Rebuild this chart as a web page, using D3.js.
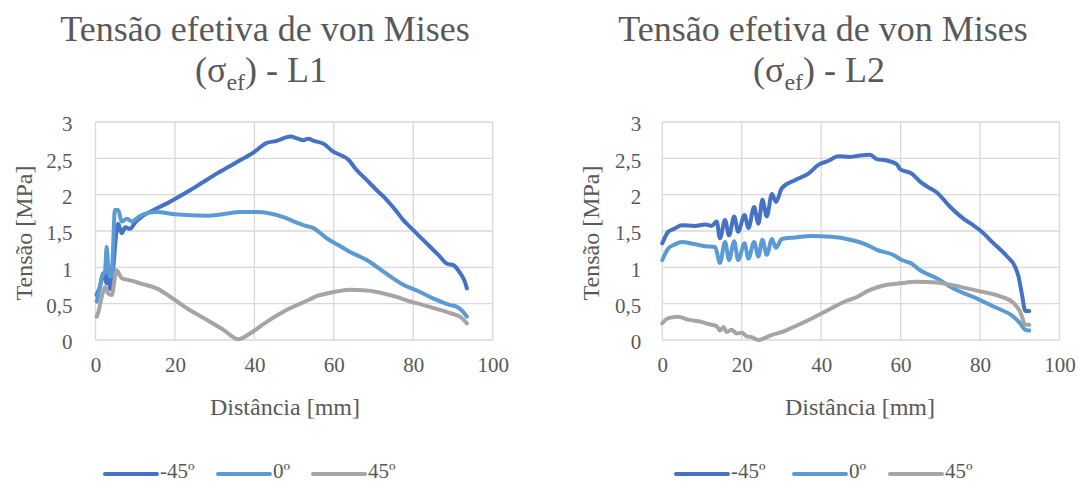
<!DOCTYPE html>
<html>
<head>
<meta charset="utf-8">
<script src="https://cdn.jsdelivr.net/npm/d3@7"></script>
<style>
  html, body { margin: 0; padding: 0; background: #fff; }
  svg { display: block; }
  svg text { font-family: "Liberation Serif", "Times New Roman", serif; fill: #595959; }
</style>
</head>
<body>
<svg id="chart" width="1080" height="483"></svg>
<script>
// ---------- DATA ----------
const seriesNames = ["-45º", "0º", "45º"];
const seriesColors = ["#4472C4", "#5B9BD5", "#A5A5A5"];
const xTicks = [0, 20, 40, 60, 80, 100];
const xTickLabels = ["0", "20", "40", "60", "80", "100"];
const yTicks = [0, 0.5, 1, 1.5, 2, 2.5, 3];
const yTickLabels = ["0", "0,5", "1", "1,5", "2", "2,5", "3"];
const chartTitles = ["L1", "L2"];

// L1: [distância mm, tensão MPa]
const L1_neg45 = [[0.3,0.62],[1.1,0.73],[2.0,0.92],[2.8,0.78],[3.2,0.92],[3.7,0.70],[4.5,1.02],[5.2,1.45],[5.7,1.6],[6.6,1.47],[7.5,1.55],[8.7,1.53],[10,1.62],[12,1.71],[15,1.8],[18,1.88],[20,1.94],[23.8,2.06],[27,2.17],[30.5,2.29],[35,2.43],[40,2.59],[43,2.71],[45.6,2.74],[49,2.80],[51,2.77],[52.3,2.75],[53.6,2.77],[55,2.74],[57.4,2.70],[59.9,2.59],[61.5,2.55],[63.7,2.48],[65.4,2.36],[68.3,2.2],[71.2,2.04],[73.3,1.93],[75.5,1.79],[77.5,1.65],[79.5,1.54],[81.7,1.42],[84.3,1.28],[86.5,1.16],[88.5,1.05],[90.1,1.03],[91.8,0.92],[93,0.8],[93.5,0.71]];
const L1_zero = [[0.3,0.53],[1.0,0.7],[1.6,0.87],[2.4,0.94],[2.8,1.28],[3.2,1.01],[3.7,0.87],[4.1,0.92],[4.9,1.79],[5.7,1.79],[6.6,1.63],[7.9,1.67],[9.1,1.63],[10.5,1.68],[12,1.73],[15.4,1.76],[20,1.73],[28,1.71],[32,1.73],[36.4,1.76],[40.6,1.76],[44,1.74],[47.3,1.69],[50,1.63],[52.3,1.58],[54.9,1.54],[58.2,1.40],[61,1.31],[64.1,1.21],[68.3,1.10],[72.5,0.94],[77.5,0.76],[81.7,0.66],[85.1,0.57],[89.3,0.48],[90.9,0.46],[92.5,0.39],[93.5,0.32]];
const L1_pos45 = [[0.3,0.32],[0.7,0.38],[1.6,0.60],[2.4,0.73],[3.2,0.64],[4.1,0.62],[5.3,0.96],[6.6,0.85],[7.9,0.83],[9.5,0.81],[11.2,0.78],[15.4,0.71],[20,0.55],[23.8,0.41],[28,0.28],[32.2,0.14],[36,0.01],[38.9,0.09],[43.1,0.25],[47.3,0.39],[50.7,0.48],[53.6,0.55],[56,0.61],[58.2,0.64],[61,0.67],[64.1,0.69],[68.3,0.68],[72.5,0.64],[76,0.59],[79.2,0.53],[82,0.49],[85.1,0.44],[89.3,0.37],[91.8,0.32],[93.5,0.23]];

// L2
const L2_neg45 = [[0,1.33],[1.5,1.49],[3,1.53],[4.9,1.58],[8.2,1.57],[10.8,1.59],[12.4,1.57],[13.7,1.63],[14.5,1.40],[15.8,1.65],[16.8,1.44],[18.1,1.70],[19.1,1.49],[20.7,1.72],[21.7,1.54],[23.1,1.83],[24.2,1.60],[25.2,1.93],[26.3,1.70],[27.6,2.01],[28.6,1.90],[30.1,2.09],[33.4,2.20],[36.8,2.29],[39.3,2.41],[42,2.47],[44.3,2.53],[47.3,2.52],[49.8,2.54],[52.3,2.55],[54,2.49],[56.5,2.47],[59,2.42],[59.9,2.35],[62.8,2.29],[64.9,2.18],[67,2.1],[69.1,2.03],[72.5,1.83],[75.8,1.67],[78,1.59],[80,1.51],[83.4,1.33],[86.8,1.15],[88.8,1.01],[89.7,0.87],[90.5,0.64],[91.4,0.40],[92.4,0.40]];
const L2_zero = [[0,1.10],[1.5,1.26],[3,1.31],[4.9,1.35],[8,1.32],[10.8,1.29],[13.3,1.28],[14.5,1.06],[15.8,1.35],[16.8,1.10],[18.1,1.36],[19.1,1.10],[20.7,1.33],[21.7,1.12],[23.1,1.35],[24.2,1.15],[25.2,1.38],[26.3,1.17],[27.6,1.39],[28.6,1.27],[30.1,1.39],[33.4,1.41],[37.6,1.43],[42.6,1.42],[47.3,1.38],[51.5,1.31],[54,1.24],[58.2,1.17],[60.3,1.10],[62.8,1.05],[64.9,0.96],[69.1,0.85],[73.3,0.71],[79.2,0.57],[83.4,0.46],[88.4,0.32],[90.1,0.23],[91.4,0.14],[92.4,0.13]];
const L2_pos45 = [[0,0.23],[1.5,0.30],[4,0.32],[6.5,0.28],[9.9,0.25],[11.6,0.22],[13.7,0.19],[14.5,0.13],[15.4,0.18],[16.2,0.11],[17.5,0.14],[18.7,0.09],[20,0.10],[21.3,0.05],[22.5,0.04],[24.2,0.0],[25.9,0.03],[27.6,0.07],[30.1,0.11],[34.3,0.21],[38.5,0.32],[42.7,0.44],[46,0.53],[48.5,0.58],[52.3,0.69],[55.7,0.75],[59.9,0.78],[64.1,0.80],[69.1,0.79],[72.5,0.76],[76.7,0.71],[80.9,0.66],[85.1,0.60],[88.4,0.51],[90.1,0.39],[91.4,0.21],[92.4,0.21]];

// ---------- DRAW ----------
const FONT = '"Liberation Serif", "Times New Roman", serif';
const TXT = "#595959";
const svg = d3.select("#chart");
svg.append("rect").attr("width", 1080).attr("height", 483).attr("fill", "#fff");

function styleText(sel, size) {
  return sel.style("font-family", FONT).style("fill", TXT).attr("font-size", size);
}

function drawChart(cfg) {
  const g = svg.append("g");
  const x = d3.scaleLinear().domain([0, 100]).range([cfg.x0, cfg.x1]);
  const y = d3.scaleLinear().domain([0, 3]).range([340, 122]);

  // title
  styleText(g.append("text"), 36).attr("x", cfg.titleX).attr("y", 41)
    .attr("text-anchor", "middle").text("Tensão efetiva de von Mises");
  const t2 = styleText(g.append("text"), 36).attr("x", cfg.titleX - 4).attr("y", 82)
    .attr("text-anchor", "middle");
  t2.append("tspan").text("(σ");
  t2.append("tspan").attr("font-size", 24).attr("dy", 8).text("ef");
  t2.append("tspan").attr("dy", -8).text(") - " + cfg.name);

  // gridlines
  g.append("g").selectAll("line").data(yTicks).join("line")
    .attr("x1", x(0)).attr("x2", x(100))
    .attr("y1", d => y(d)).attr("y2", d => y(d))
    .attr("stroke", "#D9D9D9").attr("stroke-width", 1.3);
  g.append("g").selectAll("line").data(xTicks).join("line")
    .attr("y1", y(0)).attr("y2", y(3))
    .attr("x1", d => x(d)).attr("x2", d => x(d))
    .attr("stroke", "#D9D9D9").attr("stroke-width", 1.3);

  // axes
  const ax = g.append("g").attr("transform", `translate(0,${y(0)})`)
    .call(d3.axisBottom(x).tickValues(xTicks).tickSize(0).tickPadding(17)
      .tickFormat((d, i) => xTickLabels[i]));
  ax.select(".domain").remove();
  styleText(ax.selectAll("text"), 21);

  const ay = g.append("g").attr("transform", `translate(${x(0)},0)`)
    .call(d3.axisLeft(y).tickValues(yTicks).tickSize(0).tickPadding(cfg.yPad)
      .tickFormat((d, i) => yTickLabels[i]));
  ay.select(".domain").remove();
  styleText(ay.selectAll("text"), 21).attr("dy", "0.42em");

  // axis titles
  styleText(g.append("text"), 24).attr("x", cfg.xTitleX).attr("y", 415)
    .attr("text-anchor", "middle").text("Distância [mm]");
  styleText(g.append("text"), 24).attr("transform", `translate(${cfg.yTitleX},233) rotate(-90)`)
    .attr("text-anchor", "middle").text("Tensão [MPa]");

  // lines
  const line = d3.line().x(d => x(d[0])).y(d => y(d[1])).curve(d3.curveMonotoneX);
  cfg.data.forEach((s, i) => {
    g.append("path").datum(s).attr("d", line).attr("fill", "none")
      .attr("stroke", seriesColors[i]).attr("stroke-width", 4)
      .attr("stroke-linejoin", "round").attr("stroke-linecap", "round");
  });

  // legend
  const lg = g.append("g");
  seriesNames.forEach((n, i) => {
    lg.append("line").attr("x1", cfg.legendX[i]).attr("x2", cfg.legendX[i] + 52)
      .attr("y1", 474).attr("y2", 474)
      .attr("stroke", seriesColors[i]).attr("stroke-width", 4).attr("stroke-linecap", "round");
    styleText(lg.append("text"), 21).attr("x", cfg.legendX[i] + 55).attr("y", 478).text(n);
  });
}

drawChart({ name: chartTitles[0], x0: 95.5, x1: 492.7, titleX: 265, xTitleX: 285, yTitleX: 32, yPad: 23,
  data: [L1_neg45, L1_zero, L1_pos45], legendX: [105, 218, 313] });
drawChart({ name: chartTitles[1], x0: 662.3, x1: 1059.5, titleX: 823, xTitleX: 860, yTitleX: 599, yPad: 21,
  data: [L2_neg45, L2_zero, L2_pos45], legendX: [676, 794, 890] });
</script>
</body>
</html>
